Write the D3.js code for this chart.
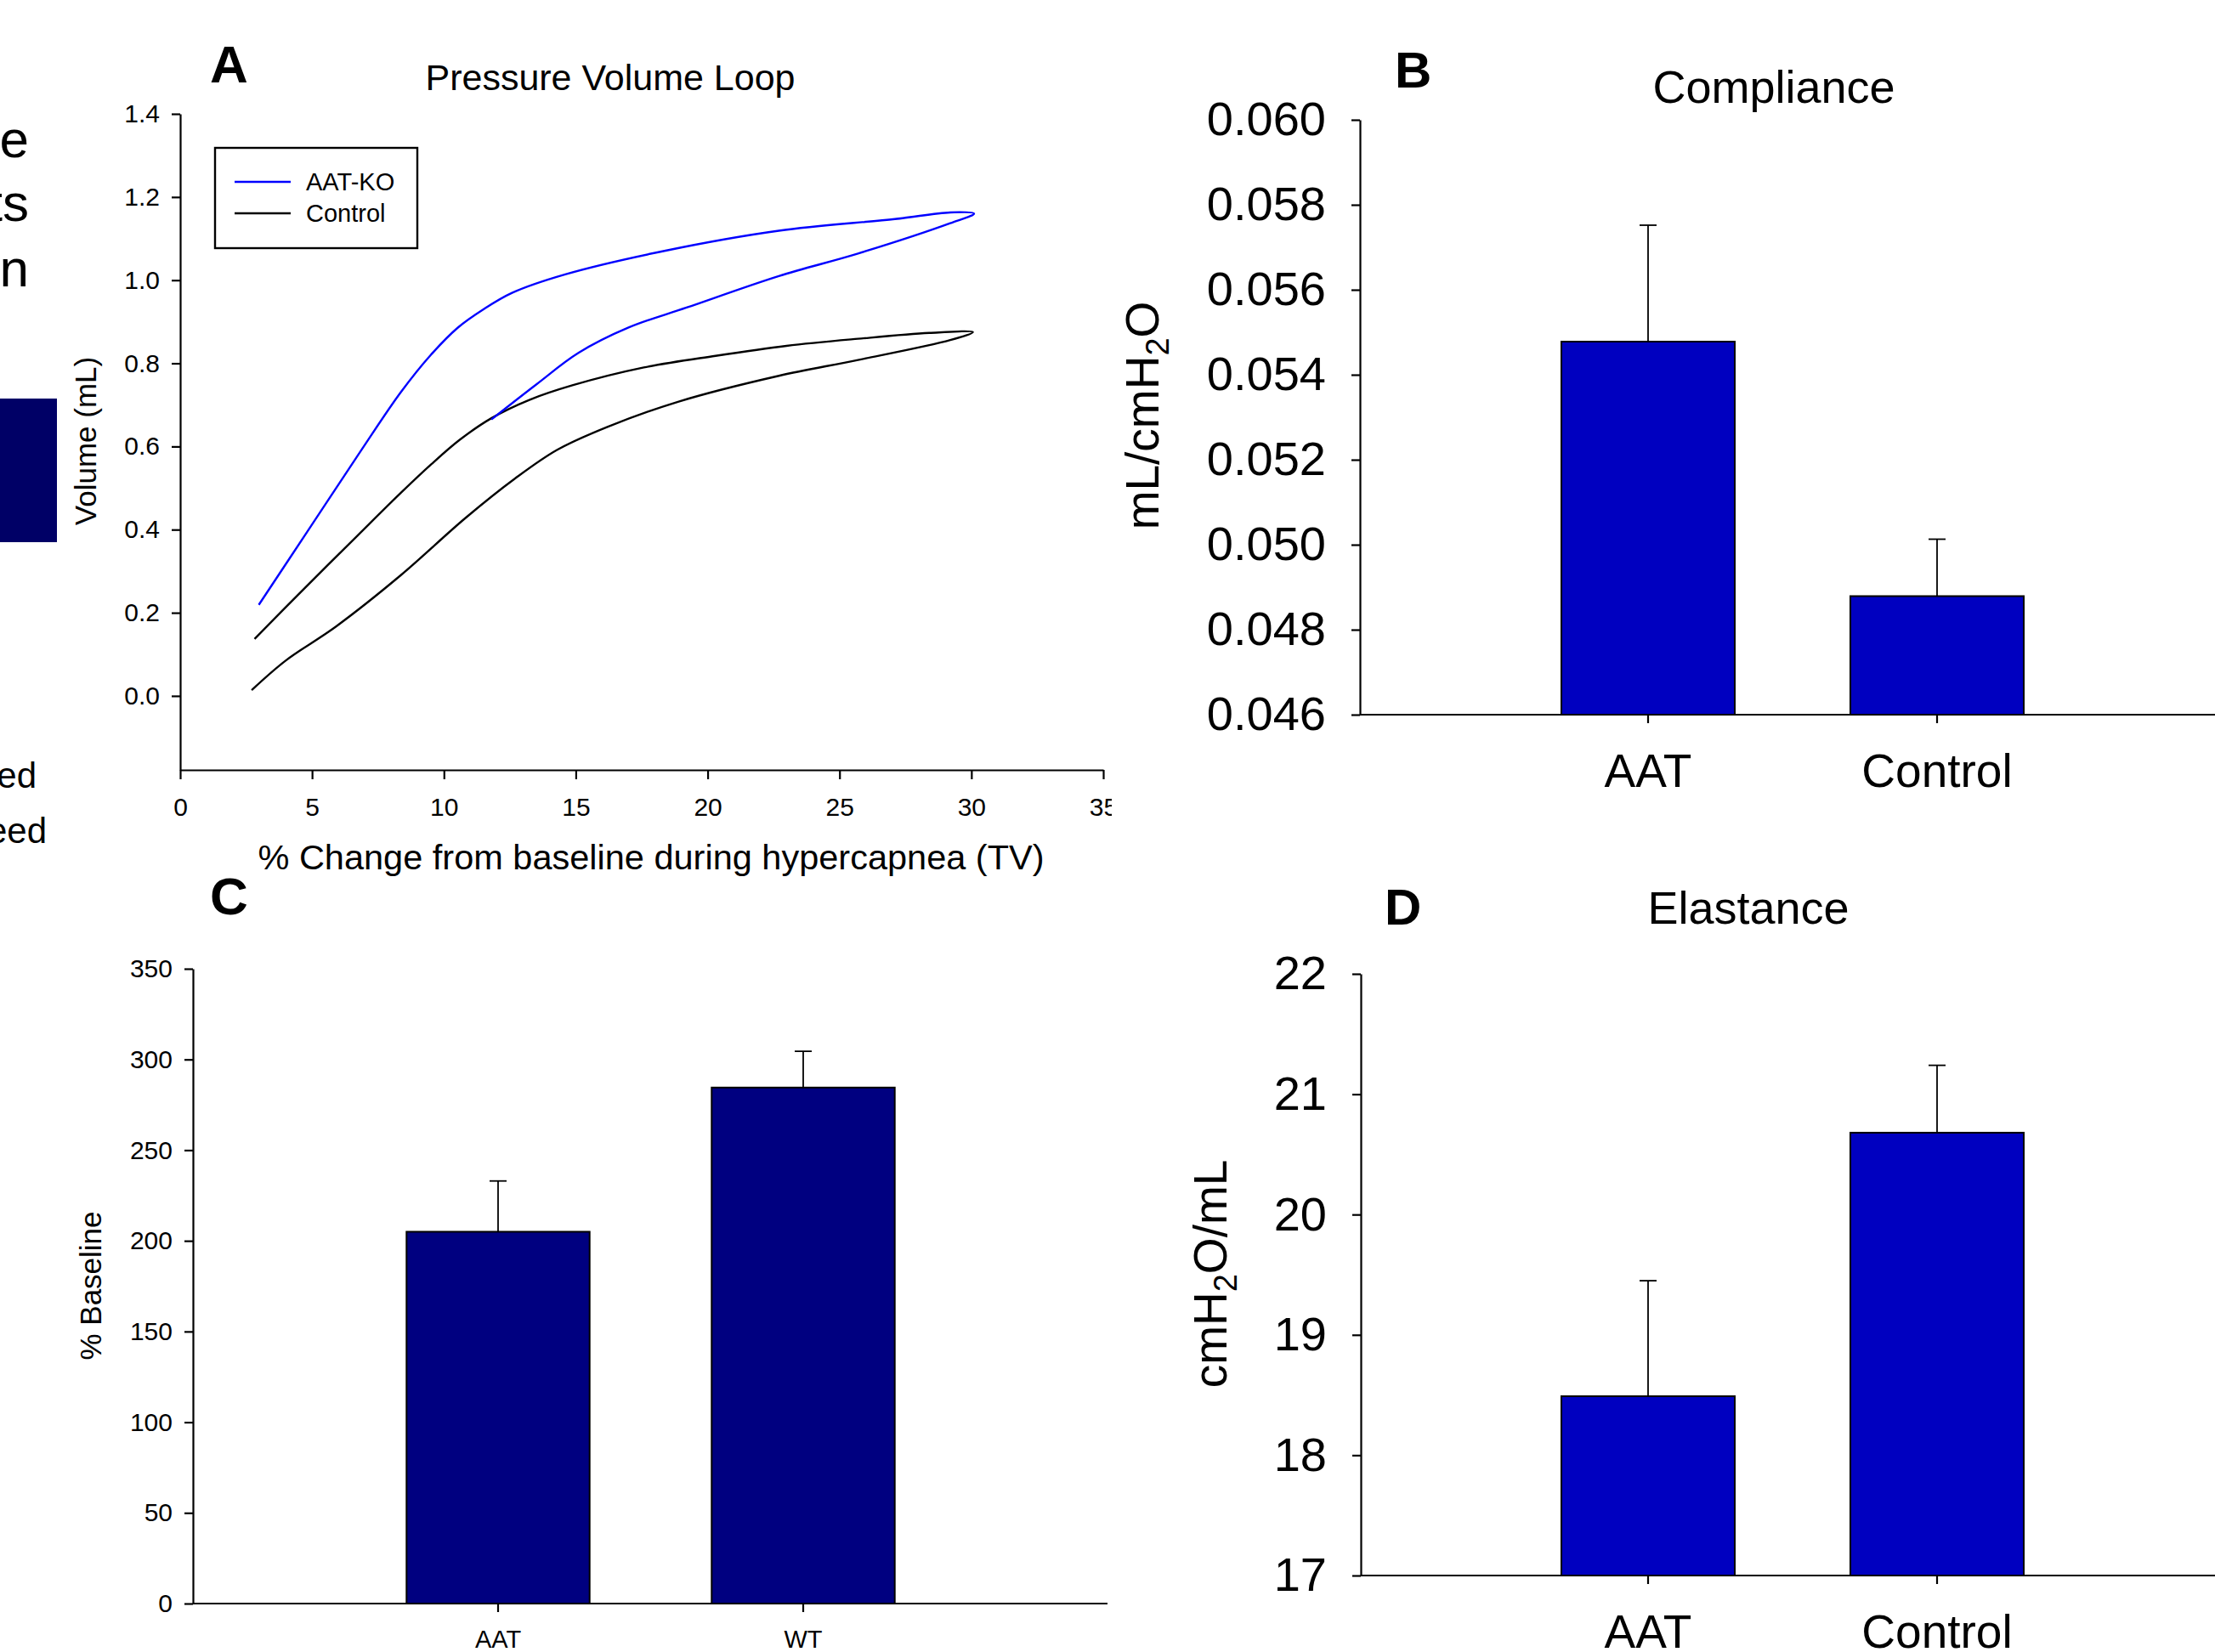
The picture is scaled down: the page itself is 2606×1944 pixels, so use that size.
<!DOCTYPE html>
<html>
<head>
<meta charset="utf-8">
<script src="https://cdn.jsdelivr.net/npm/d3@7"></script>
<style>
  html, body { margin: 0; padding: 0; background: #fff; }
  svg { display: block; }
</style>
</head>
<body>
<div id="chart"></div>
<script>
// ---- data ----
// Panel A: pressure volume loops (x = % change TV, y = volume mL), traced along the loop
const aatKoX = [2.98, 4.83, 6.73, 8.36, 9.5, 10.53, 11.5, 12.6, 14.6, 18.4, 22.7, 27.1, 29.2, 30.1,
  29.2, 25.7, 22.7, 19.2, 17.0, 15.1, 13.5, 11.8];
const aatKoY = [0.219, 0.396, 0.578, 0.73, 0.82, 0.886, 0.930, 0.970, 1.014, 1.071, 1.119, 1.147, 1.163, 1.160,
  1.137, 1.064, 1.010, 0.934, 0.886, 0.825, 0.749, 0.665];
const controlX = [2.82, 4.56, 6.73, 8.36, 9.5, 10.6, 11.8, 13.24, 14.87, 17.58, 20.3, 22.99, 25.7, 28.4, 30.06,
  29.2, 25.7, 22.7, 18.9, 16.2, 14.3, 12.7, 10.8, 8.36, 5.91, 4.0, 2.71];
const controlY = [0.137, 0.249, 0.386, 0.488, 0.556, 0.616, 0.668, 0.712, 0.747, 0.790, 0.818, 0.842, 0.859, 0.873, 0.875,
  0.856, 0.808, 0.770, 0.708, 0.647, 0.592, 0.523, 0.427, 0.290, 0.167, 0.085, 0.014];
const legendLabels = ["AAT-KO", "Control"];
const xTicksA = [0, 5, 10, 15, 20, 25, 30, 35];
const yTicksA = [0, 0.2, 0.4, 0.6, 0.8, 1.0, 1.2, 1.4];

// Panel B: compliance
const complianceCats = ["AAT", "Control"];
const complianceVals = [0.05478, 0.04879];
const complianceErr = [0.00274, 0.00134];
const yTicksB = [0.046, 0.048, 0.050, 0.052, 0.054, 0.056, 0.058, 0.060];

// Panel C: % baseline
const baselineCats = ["AAT", "WT"];
const baselineVals = [205, 284.5];
const baselineErr = [28, 20];
const yTicksC = [0, 50, 100, 150, 200, 250, 300, 350];

// Panel D: elastance
const elastanceCats = ["AAT", "Control"];
const elastanceVals = [18.49, 20.68];
const elastanceErr = [0.96, 0.56];
const yTicksD = [17, 18, 19, 20, 21, 22];

const W = 2606, H = 1944;
const FONT = "'Liberation Sans', Arial, Helvetica, sans-serif";

const svg = d3.select("#chart").append("svg")
  .attr("width", W).attr("height", H)
  .attr("viewBox", [0, 0, W, H])
  .style("font-family", FONT);

svg.append("rect").attr("width", W).attr("height", H).attr("fill", "#fff");

// style an axis group after d3 draws it
function styleAxis(g, fontSize) {
  g.attr("font-family", FONT).attr("font-size", fontSize);
  g.selectAll("path, line").attr("stroke", "#000").attr("stroke-width", 2.2);
  g.selectAll("text").attr("fill", "#000");
}

// ---- fragments of the neighbouring figure at the left edge ----
const left = svg.append("g");
[["e", 185], ["ts", 260], ["n", 337]].forEach(([t, y]) => {
  left.append("text").attr("x", 34).attr("y", y).attr("text-anchor", "end")
    .attr("font-size", 62).text(t);
});
left.append("rect").attr("x", 0).attr("y", 469).attr("width", 67).attr("height", 169)
  .attr("fill", "#000066");
[["ed", 927, 43], ["eed", 992, 55]].forEach(([t, y, x]) => {
  left.append("text").attr("x", x).attr("y", y).attr("text-anchor", "end")
    .attr("font-size", 42).text(t);
});

// ---- Panel A: Pressure Volume Loop ----
svg.append("defs").append("clipPath").attr("id", "clipA")
  .append("rect").attr("x", 0).attr("y", 0).attr("width", 1308).attr("height", H);

const gA = svg.append("g").attr("clip-path", "url(#clipA)");
const xA = d3.scaleLinear().domain([0, 35]).range([212, 1298]);
const yA = d3.scaleLinear().domain([-0.178, 1.4]).range([906, 134]);

gA.append("g").attr("transform", `translate(0,${yA(-0.178)})`)
  .call(d3.axisBottom(xA).tickValues(xTicksA).tickFormat(d3.format("d"))
    .tickSize(11).tickPadding(22).tickSizeOuter(0))
  .call(g => styleAxis(g, 30));

gA.append("g").attr("transform", `translate(${xA(0)},0)`)
  .call(d3.axisLeft(yA).tickValues(yTicksA).tickFormat(d3.format(".1f"))
    .tickSize(10).tickPadding(14).tickSizeOuter(0))
  .call(g => styleAxis(g, 30));

const lineA = d3.line().curve(d3.curveCatmullRom.alpha(0.5))
  .x(d => xA(d[0])).y(d => yA(d[1]));

gA.append("path").datum(controlX.map((x, i) => [x, controlY[i]]))
  .attr("d", lineA).attr("fill", "none").attr("stroke", "#000").attr("stroke-width", 2.4);
gA.append("path").datum(aatKoX.map((x, i) => [x, aatKoY[i]]))
  .attr("d", lineA).attr("fill", "none").attr("stroke", "#0000ff").attr("stroke-width", 2.4);

// legend
const legColors = ["#0000ff", "#000"];
const leg = gA.append("g");
leg.append("rect").attr("x", 253).attr("y", 174).attr("width", 238).attr("height", 118)
  .attr("fill", "#fff").attr("stroke", "#000").attr("stroke-width", 2.4);
legendLabels.forEach((lab, i) => {
  const y = 214 + i * 37;
  leg.append("line").attr("x1", 276).attr("x2", 342).attr("y1", y).attr("y2", y)
    .attr("stroke", legColors[i]).attr("stroke-width", 2.4);
  leg.append("text").attr("x", 360).attr("y", y + 10).attr("font-size", 29).text(lab);
});

gA.append("text").attr("x", 247).attr("y", 97).attr("font-size", 62)
  .attr("font-weight", "bold").text("A");
gA.append("text").attr("x", 718).attr("y", 106).attr("text-anchor", "middle")
  .attr("font-size", 43).text("Pressure Volume Loop");
gA.append("text").attr("x", 766).attr("y", 1023).attr("text-anchor", "middle")
  .attr("font-size", 41.5).text("% Change from baseline during hypercapnea (TV)");
gA.append("text").attr("transform", "translate(113,519) rotate(-90)")
  .attr("text-anchor", "middle").attr("font-size", 35).text("Volume (mL)");

// ---- generic bar panel ----
function barPanel(opt) {
  const g = svg.append("g");
  const x = d3.scaleBand().domain(opt.cats).range(opt.xRange).padding(0);
  const y = d3.scaleLinear().domain(opt.yDomain).range(opt.yRange);
  const base = y(opt.yDomain[0]);
  const bw = x.bandwidth() * 0.6;

  // bars
  g.selectAll("rect.bar").data(opt.vals).join("rect")
    .attr("class", "bar")
    .attr("x", (d, i) => x(opt.cats[i]) + (x.bandwidth() - bw) / 2)
    .attr("y", d => y(d))
    .attr("width", bw)
    .attr("height", d => base - y(d))
    .attr("fill", opt.color).attr("stroke", "#000").attr("stroke-width", 2);

  // error bars (upper only)
  const cx = i => x(opt.cats[i]) + x.bandwidth() / 2;
  g.selectAll("line.err").data(opt.vals).join("line")
    .attr("class", "err")
    .attr("x1", (d, i) => cx(i)).attr("x2", (d, i) => cx(i))
    .attr("y1", d => y(d)).attr("y2", (d, i) => y(d + opt.err[i]))
    .attr("stroke", "#000").attr("stroke-width", 1.8);
  g.selectAll("line.cap").data(opt.vals).join("line")
    .attr("class", "cap")
    .attr("x1", (d, i) => cx(i) - 10).attr("x2", (d, i) => cx(i) + 10)
    .attr("y1", (d, i) => y(d + opt.err[i])).attr("y2", (d, i) => y(d + opt.err[i]))
    .attr("stroke", "#000").attr("stroke-width", 1.8);

  // y axis
  g.append("g").attr("transform", `translate(${opt.axisX},0)`)
    .call(d3.axisLeft(y).tickValues(opt.yTicks).tickFormat(opt.fmt)
      .tickSize(10).tickPadding(opt.yPad).tickSizeOuter(0))
    .call(a => styleAxis(a, opt.tickFont));

  // x axis: category ticks + a baseline running to the panel edge
  g.append("g").attr("transform", `translate(0,${base})`)
    .call(d3.axisBottom(x).tickSize(10).tickPadding(opt.xPad).tickSizeOuter(0))
    .call(a => {
      styleAxis(a, opt.catFont);
      a.select(".domain").remove();
    });
  g.append("line").attr("x1", opt.axisX).attr("x2", opt.axisEnd)
    .attr("y1", base).attr("y2", base).attr("stroke", "#000").attr("stroke-width", 2.2);

  return g;
}

// Panel B
const gB = barPanel({
  cats: complianceCats, vals: complianceVals, err: complianceErr,
  xRange: [1769, 2449], yDomain: [0.046, 0.060], yRange: [841, 141],
  yTicks: yTicksB, fmt: d3.format(".3f"), axisX: 1600, axisEnd: W,
  color: "#0000c0", tickFont: 56, catFont: 55, yPad: 30, xPad: 36
});
gB.append("text").attr("x", 1641).attr("y", 103).attr("font-size", 60)
  .attr("font-weight", "bold").text("B");
gB.append("text").attr("x", 2087).attr("y", 121).attr("text-anchor", "middle")
  .attr("font-size", 54).text("Compliance");
const ylB = gB.append("text").attr("transform", "translate(1363,489) rotate(-90)")
  .attr("text-anchor", "middle").attr("font-size", 55);
ylB.append("tspan").text("mL/cmH");
ylB.append("tspan").attr("font-size", 38).attr("dy", 12).text("2");
ylB.append("tspan").attr("dy", -12).text("O");

// Panel C
const gC = barPanel({
  cats: baselineCats, vals: baselineVals, err: baselineErr,
  xRange: [406.5, 1124.5], yDomain: [0, 350], yRange: [1887, 1140],
  yTicks: yTicksC, fmt: d3.format("d"), axisX: 227, axisEnd: 1303,
  color: "#000080", tickFont: 30, catFont: 29, yPad: 14, xPad: 21
});
gC.append("text").attr("x", 247).attr("y", 1076).attr("font-size", 62)
  .attr("font-weight", "bold").text("C");
gC.append("text").attr("transform", "translate(119,1513) rotate(-90)")
  .attr("text-anchor", "middle").attr("font-size", 35).text("% Baseline");

// Panel D
const gD = barPanel({
  cats: elastanceCats, vals: elastanceVals, err: elastanceErr,
  xRange: [1769, 2449], yDomain: [17, 22], yRange: [1854, 1146],
  yTicks: yTicksD, fmt: d3.format("d"), axisX: 1601, axisEnd: W,
  color: "#0000c0", tickFont: 56, catFont: 55, yPad: 30, xPad: 36
});
gD.append("text").attr("x", 1629).attr("y", 1088).attr("font-size", 60)
  .attr("font-weight", "bold").text("D");
gD.append("text").attr("x", 2057).attr("y", 1087).attr("text-anchor", "middle")
  .attr("font-size", 54).text("Elastance");
const ylD = gD.append("text").attr("transform", "translate(1443,1499) rotate(-90)")
  .attr("text-anchor", "middle").attr("font-size", 55);
ylD.append("tspan").text("cmH");
ylD.append("tspan").attr("font-size", 38).attr("dy", 12).text("2");
ylD.append("tspan").attr("dy", -12).text("O/mL");
</script>
</body>
</html>
